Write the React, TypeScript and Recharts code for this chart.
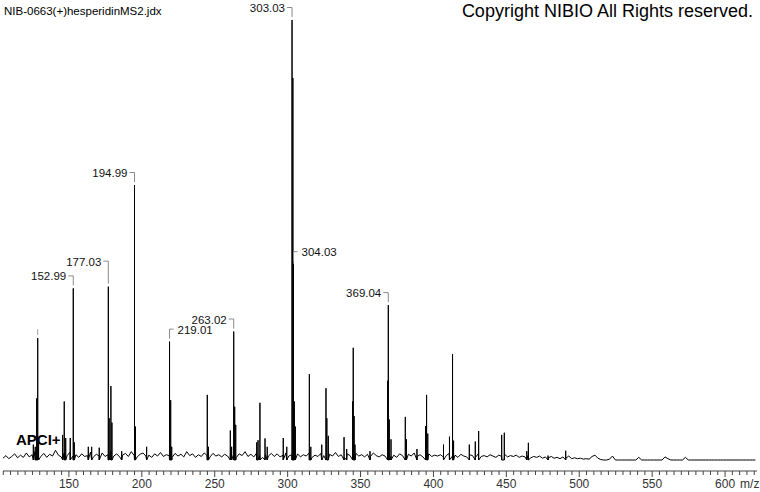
import React from 'react';
import { ComposedChart, Line, Scatter, XAxis, YAxis } from 'recharts';

const FONT = '"Liberation Sans", Arial, Helvetica, sans-serif';

// ---- data ----
const titleText = 'NIB-0663(+)hesperidinMS2.jdx';
const copyrightText = 'Copyright NIBIO All Rights reserved.';
const ionText = 'APCI+';
const axisUnit = 'm/z';

const mzDomain: [number, number] = [104.8, 621.9];
const intensityDomain: [number, number] = [-2.5, 100];

const majorTicks = [150, 200, 250, 300, 350, 400, 450, 500, 550, 600];
const minorTicks = [
  105, 110, 115, 120, 125, 130, 135, 140, 145, 150, 155, 160, 165, 170, 175, 180, 185, 190, 195, 200,
  205, 210, 215, 220, 225, 230, 235, 240, 245, 250, 255, 260, 265, 270, 275, 280, 285, 290, 295, 300,
  305, 310, 315, 320, 325, 330, 335, 340, 345, 350, 355, 360, 365, 370, 375, 380, 385, 390, 395, 400,
  405, 410, 415, 420, 425, 430, 435, 440, 445, 450, 455, 460, 465, 470, 475, 480, 485, 490, 495, 500,
  505, 510, 515, 520, 525, 530, 535, 540, 545, 550, 555, 560, 565, 570, 575, 580, 585, 590, 595, 600,
  605, 610, 615, 620,
];

// baseline noise, one value every 2 m/z starting at 104.8
const noiseStartMz = 104.8;
const noiseStepMz = 2;
const noiseIntensity = [
  0.4, 1.0, 0.3, 0.8, 1.4, 0.5, 1.1, 0.6, 1.6, 0.7, 1.2, 2.0, 1.0, 0.8, 1.5, 0.6, 1.3, 0.9, 2.2, 1.1, 0.7, 1.6, 1.0, 1.8, 0.9,
  1.2, 0.6, 1.4, 0.8, 1.0, 1.8, 0.7, 1.3, 0.9, 1.6, 0.8, 1.2, 2.0, 0.9, 1.4, 0.7, 1.1, 1.5, 0.8, 1.9, 1.0, 0.7, 1.3, 1.6, 0.9,
  1.1, 0.6, 1.4, 0.9, 1.7, 0.8, 1.2, 1.0, 0.6, 1.5, 0.9, 1.3, 0.7, 1.9, 1.0, 1.4, 0.6, 1.2, 0.8, 1.6, 1.0, 0.7, 1.5, 0.9, 1.2,
  0.7, 1.3, 0.9, 1.8, 1.1, 0.6, 1.4, 1.0, 1.9, 0.8, 1.3, 0.7, 1.6, 1.0, 0.6, 1.2, 0.9, 1.5, 0.8, 1.4, 0.7, 1.1, 1.6, 0.9, 1.2,
  1.0, 1.4, 0.7, 1.2, 0.9, 1.6, 0.6, 1.1, 0.8, 1.5, 1.0, 0.7, 1.3, 0.9, 1.7, 0.8, 1.2, 0.6, 1.4, 1.0, 0.8, 1.5, 0.9, 1.2, 0.7,
  1.3, 0.8, 1.6, 1.0, 0.7, 1.2, 0.9, 1.5, 0.8, 1.1, 0.6, 1.4, 1.0, 0.7, 1.3, 0.9, 1.6, 0.8, 1.2, 0.7, 1.0, 1.4, 0.8, 1.1, 0.9,
  1.2, 0.7, 1.0, 1.5, 0.8, 1.1, 0.6, 1.3, 0.9, 0.7, 1.2, 1.0, 0.6, 1.4, 0.8, 1.0, 0.7, 1.2, 0.9, 0.6, 1.1, 0.8, 1.3, 0.7, 1.0,
  0.8, 1.1, 0.6, 0.9, 0.7, 1.0, 0.5, 0.8, 0.6, 0.9, 0.4, 0.7, 0.5, 0.8, 0.4, 0.6, 0.3, 0.7, 0.4, 0.9, 0.3, 0.5, 0.3, 0.4, 0.2,
  0.3, 0.2, 0.8, 1.1, 0.4, 0.1, 0, 0, 0.2, 0.9, 0, 0, 0, 0, 0, 0, 0, 0, 0.6, 0, 0, 0, 0, 0, 0,
  0, 0, 0.7, 0.3, 0, 0, 0, 0, 0, 0.6, 0, 0, 0, 0, 0, 0, 0, 0, 0, 0, 0, 0, 0, 0, 0,
  0, 0, 0, 0, 0, 0, 0, 0, 0,
];

// centroid peaks: [m/z, relative intensity %]
const peaks: [number, number][] = [
  [125.6, 3.5], [126.9, 3.0], [127.9, 14.0], [128.6, 27.7], [129.2, 4.0],
  [145.7, 5.7], [146.8, 13.3], [147.8, 5.0], [150.9, 5.0],
  [152.99, 39.0], [153.7, 4.0],
  [163.3, 3.0], [165.6, 3.0], [170.8, 2.8],
  [177.03, 39.4], [177.6, 9.5], [178.8, 16.8], [179.5, 8.5],
  [186.2, 2.0],
  [194.99, 62.5], [195.6, 7.6],
  [203.3, 3.0],
  [219.01, 26.9], [219.8, 13.6], [220.5, 3.0],
  [244.9, 14.8], [245.7, 3.0],
  [260.7, 6.7], [261.6, 3.0],
  [263.02, 29.2], [263.7, 12.1], [264.4, 8.0],
  [278.8, 4.0], [279.7, 4.5], [281.0, 13.0], [284.5, 4.9], [286.0, 3.0],
  [297.0, 5.0], [299.4, 3.0],
  [303.03, 100], [303.6, 86.8], [304.03, 44.5], [304.6, 13.3], [305.3, 7.6],
  [314.9, 19.5], [315.9, 3.0],
  [323.4, 3.5],
  [326.3, 16.3], [326.9, 9.5], [327.9, 5.5],
  [338.7, 5.2], [340.5, 2.5],
  [344.6, 13.3], [345.0, 25.5], [345.6, 10.0], [346.2, 3.5],
  [356.5, 2.0],
  [368.6, 18.0], [369.04, 35.2], [369.7, 9.2], [370.9, 4.7],
  [380.7, 9.8], [381.5, 4.7],
  [388.7, 2.5],
  [394.6, 7.7], [395.3, 14.8], [396.1, 6.0],
  [406.9, 3.5],
  [411.0, 5.3], [413.1, 24.1], [413.8, 4.4],
  [424.6, 3.5], [428.7, 4.2], [431.0, 6.6],
  [446.8, 5.7], [448.6, 6.2],
  [464.0, 2.0], [465.1, 3.9],
  [478.6, 1.0], [490.7, 2.1],
];

// annotated peaks
const labelMz = [152.99, 177.03, 194.99, 219.01, 263.02, 303.03, 304.03, 369.04];
const labelText = ['152.99', '177.03', '194.99', '219.01', '263.02', '303.03', '304.03', '369.04'];
const labelSide = ['left', 'left', 'left', 'right', 'left', 'left', 'right', 'left'];

// peaks with an unlabeled marker
const markerMz = [128.6];

// ---- layout (label lift in px to avoid overlaps) ----
const labelLift = [0, 13, 0, 0, 0, 0, 0, 0];

// ---- build series ----
type Pt = { mz: number; i: number };
const heightOf = (mz: number) => {
  const p = peaks.find((q) => q[0] === mz);
  return p ? p[1] : 0;
};

const groups: Pt[][] = [];
noiseIntensity.forEach((v, k) => groups.push([{ mz: noiseStartMz + k * noiseStepMz, i: v }]));
peaks.forEach(([mz, h]) => groups.push([{ mz, i: 0 }, { mz, i: h }, { mz, i: 0 }]));
groups.sort((a, b) => a[0].mz - b[0].mz);
const spectrum: Pt[] = groups.flat();

const labelData = labelMz.map((mz, k) => ({ mz, i: heightOf(mz), text: labelText[k], side: labelSide[k], lift: labelLift[k] }));
const markerData = markerMz.map((mz) => ({ mz, i: heightOf(mz) }));

// ---- renderers ----
const BRACKET = '#8a8a8a';

const PeakLabel = (props: any) => {
  const { cx, cy, payload } = props;
  if (cx == null || cy == null) return null;
  const lift = payload.lift || 0;
  const top = cy - 12.5 - lift;
  const base = cy - 8 - lift;
  if (payload.side === 'right') {
    return (
      <g>
        <polyline points={`${cx},${cy - 3} ${cx},${top} ${cx + 4},${top}`} fill="none" stroke={BRACKET} strokeWidth={1} />
        <text x={cx + 8} y={base} fontSize={11.5} fontFamily={FONT} fill="#111" textAnchor="start">
          {payload.text}
        </text>
      </g>
    );
  }
  return (
    <g>
      <polyline points={`${cx - 5},${top} ${cx},${top} ${cx},${cy - 3}`} fill="none" stroke={BRACKET} strokeWidth={1} />
      <text x={cx - 7} y={base} fontSize={11.5} fontFamily={FONT} fill="#111" textAnchor="end">
        {payload.text}
      </text>
    </g>
  );
};

const PeakMarker = (props: any) => {
  const { cx, cy } = props;
  if (cx == null || cy == null) return null;
  return <line x1={cx} x2={cx} y1={cy - 9} y2={cy - 3} stroke="#a0a0a0" strokeWidth={1} />;
};

const MzTick = (props: any) => {
  const { x, y, payload } = props;
  const v = payload.value as number;
  const major = majorTicks.includes(v);
  return (
    <g>
      <line x1={x} x2={x} y1={y} y2={y + (major ? 6 : 4)} stroke="#444" strokeWidth={1} />
      {major && (
        <text x={x} y={y + 17} fontSize={12} fontFamily={FONT} fill="#333" textAnchor="middle">
          {String(v)}
        </text>
      )}
      {major && v === majorTicks[majorTicks.length - 1] && (
        <text x={x + 15} y={y + 17} fontSize={12} fontFamily={FONT} fill="#333" textAnchor="start">
          {axisUnit}
        </text>
      )}
    </g>
  );
};

export default function App() {
  return (
    <div style={{ position: 'absolute', left: 0, top: 0, width: 760, height: 492, background: '#fff', fontFamily: FONT }}>
      <ComposedChart width={760} height={492} margin={{ top: 20, right: 3, bottom: 0, left: 3 }}>
        <XAxis
          type="number"
          dataKey="mz"
          domain={mzDomain}
          ticks={minorTicks}
          interval={0}
          height={21}
          tickSize={0}
          tickMargin={0}
          tickLine={false}
          axisLine={{ stroke: '#444' }}
          tick={(p: any) => <MzTick {...p} />}
        />
        <YAxis type="number" dataKey="i" domain={intensityDomain} hide />
        <Line
          data={spectrum}
          dataKey="i"
          type="linear"
          stroke="#000"
          strokeWidth={1}
          dot={false}
          activeDot={false}
          isAnimationActive={false}
        />
        <Scatter data={markerData} dataKey="i" shape={(p: any) => <PeakMarker {...p} />} isAnimationActive={false} />
        <Scatter data={labelData} dataKey="i" shape={(p: any) => <PeakLabel {...p} />} isAnimationActive={false} />
      </ComposedChart>
      <svg width={760} height={492} style={{ position: 'absolute', left: 0, top: 0, pointerEvents: 'none' }}>
        <text x={4} y={15} fontSize={11.5} fontFamily={FONT} fill="#000">
          {titleText}
        </text>
        <text x={753} y={16.5} fontSize={18} fontFamily={FONT} fill="#000" textAnchor="end">
          {copyrightText}
        </text>
        <text x={16} y={445} fontSize={15} fontWeight="bold" fontFamily={FONT} fill="#000">
          {ionText}
        </text>
      </svg>
    </div>
  );
}
